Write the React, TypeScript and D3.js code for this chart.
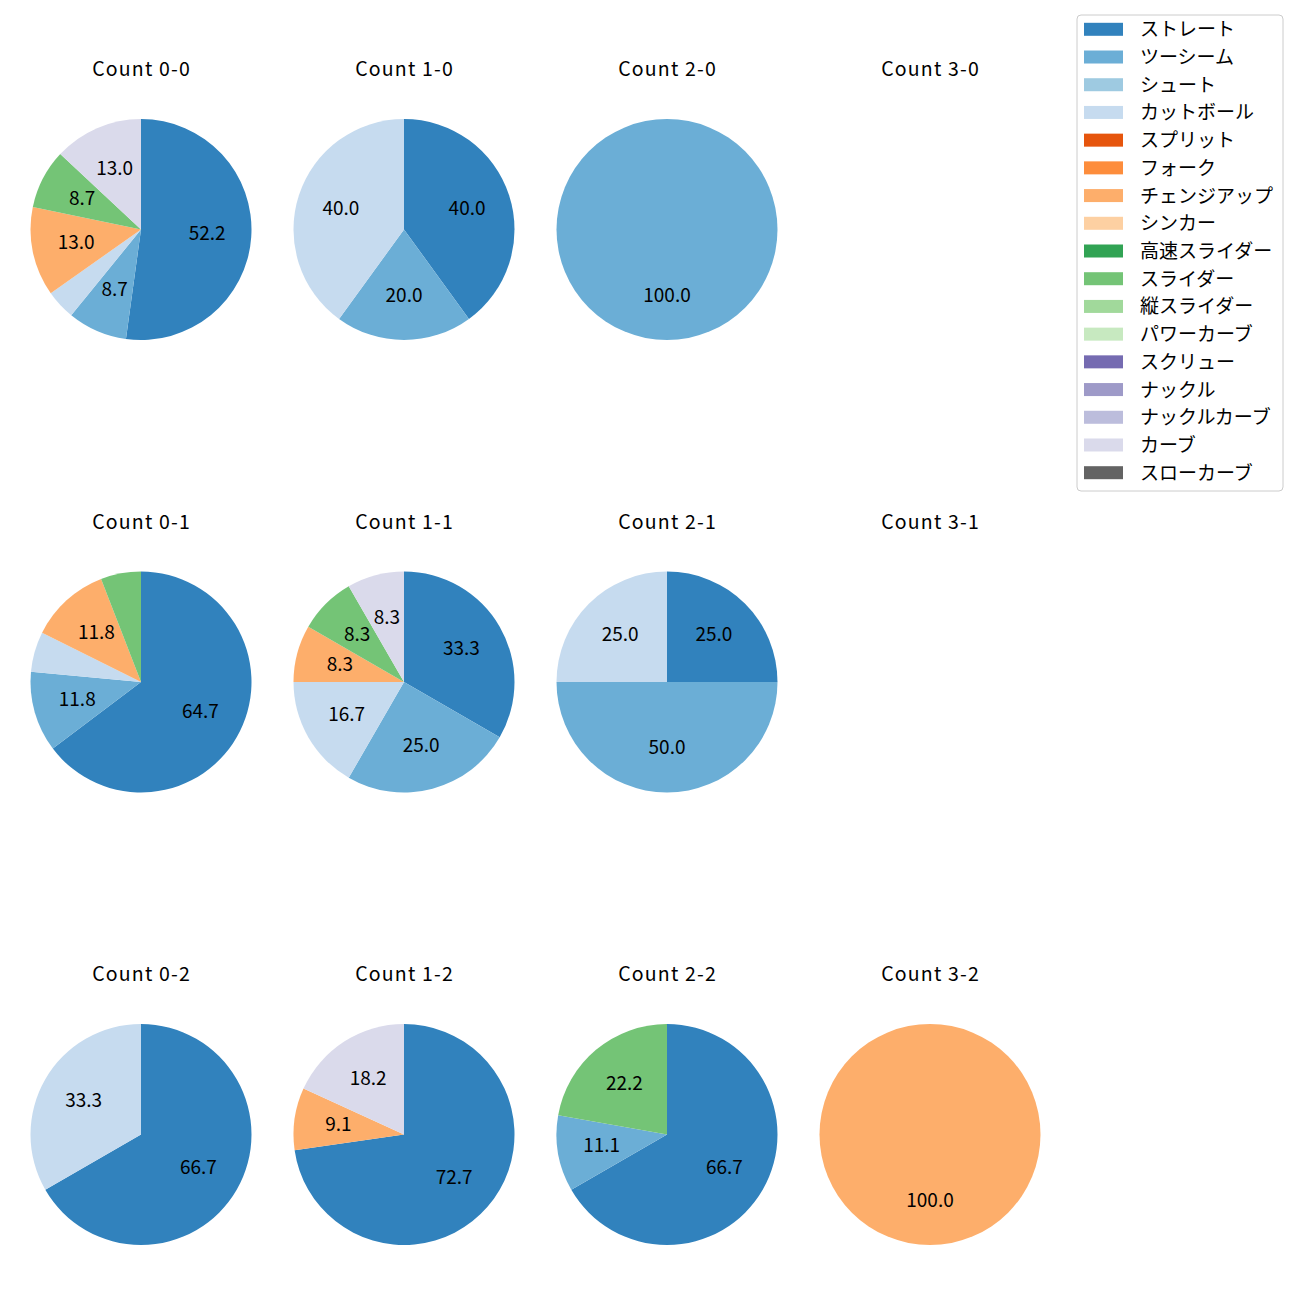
import React from "react";
import * as d3 from "d3";

const pitchTypes = [
  "ストレート", "ツーシーム", "シュート", "カットボール", "スプリット", "フォーク",
  "チェンジアップ", "シンカー", "高速スライダー", "スライダー", "縦スライダー",
  "パワーカーブ", "スクリュー", "ナックル", "ナックルカーブ", "カーブ", "スローカーブ",
];
const pitchColors = [
  "#3182bd", "#6baed6", "#9ecae1", "#c6dbef", "#e6550d", "#fd8d3c",
  "#fdae6b", "#fdd0a2", "#31a354", "#74c476", "#a1d99b", "#c7e9c0",
  "#756bb1", "#9e9ac8", "#bcbddc", "#dadaeb", "#636363",
];

const countTitles = [
  "Count 0-0", "Count 1-0", "Count 2-0", "Count 3-0",
  "Count 0-1", "Count 1-1", "Count 2-1", "Count 3-1",
  "Count 0-2", "Count 1-2", "Count 2-2", "Count 3-2",
];

// pitch counts per ball-strike count, in pitchTypes order
const c00 = [12, 2, 0, 1, 0, 0, 3, 0, 0, 2, 0, 0, 0, 0, 0, 3, 0];
const c10 = [2, 1, 0, 2, 0, 0, 0, 0, 0, 0, 0, 0, 0, 0, 0, 0, 0];
const c20 = [0, 1, 0, 0, 0, 0, 0, 0, 0, 0, 0, 0, 0, 0, 0, 0, 0];
const c30 = [0, 0, 0, 0, 0, 0, 0, 0, 0, 0, 0, 0, 0, 0, 0, 0, 0];
const c01 = [11, 2, 0, 1, 0, 0, 2, 0, 0, 1, 0, 0, 0, 0, 0, 0, 0];
const c11 = [4, 3, 0, 2, 0, 0, 1, 0, 0, 1, 0, 0, 0, 0, 0, 1, 0];
const c21 = [1, 2, 0, 1, 0, 0, 0, 0, 0, 0, 0, 0, 0, 0, 0, 0, 0];
const c31 = [0, 0, 0, 0, 0, 0, 0, 0, 0, 0, 0, 0, 0, 0, 0, 0, 0];
const c02 = [2, 0, 0, 1, 0, 0, 0, 0, 0, 0, 0, 0, 0, 0, 0, 0, 0];
const c12 = [8, 0, 0, 0, 0, 0, 1, 0, 0, 0, 0, 0, 0, 0, 0, 2, 0];
const c22 = [6, 1, 0, 0, 0, 0, 0, 0, 0, 2, 0, 0, 0, 0, 0, 0, 0];
const c32 = [0, 0, 0, 0, 0, 0, 1, 0, 0, 0, 0, 0, 0, 0, 0, 0, 0];

const countValues = [c00, c10, c20, c30, c01, c11, c21, c31, c02, c12, c22, c32];

const FONT = "'Noto Sans CJK JP', 'Noto Sans', sans-serif";

export default function App() {
  const W = 1300, H = 1300;
  const colX = d3.scaleLinear().domain([0, 3]).range([141, 930]);
  const rowY = d3.scaleLinear().domain([0, 2]).range([229.5, 1134.5]);
  const R = 110.5;
  const pie = d3.pie<number>().sort(null).value((d) => d).startAngle(0).endAngle(2 * Math.PI);
  const arc = d3.arc<d3.PieArcDatum<number>>().innerRadius(0).outerRadius(R);
  const labelArc = d3.arc<d3.PieArcDatum<number>>().innerRadius(R * 0.6).outerRadius(R * 0.6);

  const legendX = 1077, legendY = 15, legendW = 206, legendH = 476;
  const legendRow = d3.scaleLinear().domain([0, pitchTypes.length - 1]).range([29.3, 472.7]);

  return (
    <svg width={W} height={H} style={{ display: "block", position: "absolute", left: 0, top: 0 }} fontFamily={FONT}>
      <rect x={0} y={0} width={W} height={H} fill="#fff" />
      {countValues.map((vals, i) => {
        const col = i % 4, row = Math.floor(i / 4);
        const cx = colX(col), cy = rowY(row);
        const total = d3.sum(vals);
        const arcs = total > 0 ? pie(vals) : [];
        return (
          <g key={i}>
            <text x={cx + 0.6} y={cy - 162} textAnchor="middle" dominantBaseline="central" fontSize={19.5} letterSpacing={1.2} fill="#000">
              {countTitles[i]}
            </text>
            <g transform={`translate(${cx},${cy})`}>
              {arcs.filter((a) => a.value > 0).map((a) => (
                <path key={a.index} d={arc(a) || ""} fill={pitchColors[a.index]} />
              ))}
              {arcs.filter((a) => a.value > 0).map((a) => {
                const pct = (a.value / total) * 100;
                if (pct < 7) return null;
                const [lx, ly] = labelArc.centroid(a);
                return (
                  <text key={"l" + a.index} x={lx} y={ly - 2.5} textAnchor="middle" dominantBaseline="central" fontSize={19} fill="#000">
                    {pct.toFixed(1)}
                  </text>
                );
              })}
            </g>
          </g>
        );
      })}
      <rect x={legendX} y={legendY} width={legendW} height={legendH} rx={4} ry={4} fill="#fff" fillOpacity={0.8} stroke="#cccccc" strokeWidth={1} />
      {pitchTypes.map((p, i) => (
        <g key={p}>
          <rect x={1084} y={legendRow(i) - 6.5} width={39} height={13} fill={pitchColors[i]} />
          <text x={1140} y={legendRow(i) - 1.5} dominantBaseline="central" fontSize={19} fill="#000">{p}</text>
        </g>
      ))}
    </svg>
  );
}
